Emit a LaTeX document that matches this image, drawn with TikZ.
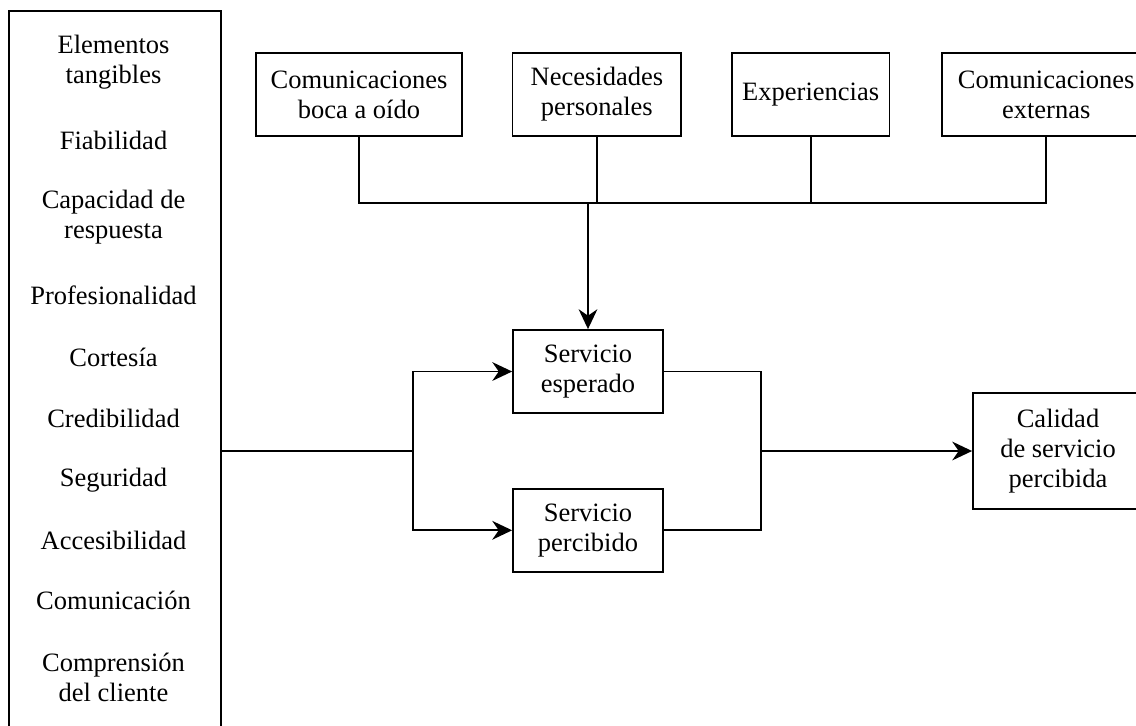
\documentclass[tikz,border=0pt]{standalone}
\usepackage{fontspec}
\setmainfont{Liberation Serif}
\usetikzlibrary{arrows.meta, positioning}

\begin{document}
\begin{tikzpicture}[
    x=0.4528pt, y=-0.4528pt,
    node distance=22pt,
    >={Stealth[length=9pt, width=8.5pt]},
    line width=0.8pt,
    caja/.style={rectangle, draw, minimum height=37.6pt, align=center, inner sep=2pt, font=\fontsize{12}{13.6}\selectfont},
    factor/.style={align=center, inner sep=0pt, font=\fontsize{12}{13.6}\selectfont}
  ]
    \useasboundingbox (0,0) rectangle (1136,725);
    \clip (0,0) rectangle (1136,725);

    % factores de calidad
    \node[draw, anchor=north west, minimum width=96pt, minimum height=335pt] (factores) at (8,10) {};
    \foreach \txt/\yy [count=\i] in {Elementos\\tangibles/62, Fiabilidad/140, Capacidad de\\respuesta/217, Profesionalidad/295, Cortesía/357, Credibilidad/418, Seguridad/480, Accesibilidad/540, Comunicación/600, Comprensión\\del cliente/677}
      \node[factor] (f\i) at (113.5,\yy) {\txt};

    % expectativas
    \node[caja, minimum width=93.3pt] (boca) at (359,94.5) {Comunicaciones\\boca a oído};
    \node[caja, minimum width=76.5pt, right=of boca] (necesidades) {Necesidades\\personales};
    \node[caja, minimum width=71.5pt, right=of necesidades] (experiencias) {Experiencias};
    \node[caja, minimum width=94.2pt, right=23pt of experiencias] (externas) {Comunicaciones\\externas};

    \node[caja, minimum width=67.9pt] (esperado) at (588,371.5) {Servicio\\esperado};
    \node[caja, minimum width=67.9pt, below=33.5pt of esperado] (percibido) {Servicio\\percibido};
    \node[caja, minimum width=77pt, minimum height=52.5pt] (calidad) at (1058,451) {Calidad\\de servicio\\percibida};

    \coordinate (bus) at (0,203);
    \coordinate (izq) at (413,451);
    \coordinate (der) at (761,451);

    \draw (boca.south) |- (externas.south |- bus) -- (externas.south);
    \draw (necesidades.south) -- (necesidades.south |- bus);
    \draw (experiencias.south) -- (experiencias.south |- bus);
    \draw[->] (esperado.north |- bus) -- (esperado.north);

    \draw (factores.east |- izq) -- (izq);
    \draw[->] (izq) |- (esperado.west);
    \draw[->] (izq) |- (percibido.west);
    \draw (esperado.east) -| (der);
    \draw (percibido.east) -| (der);
    \draw[->] (der) -- (calidad.west);
  \end{tikzpicture}
\end{document}
